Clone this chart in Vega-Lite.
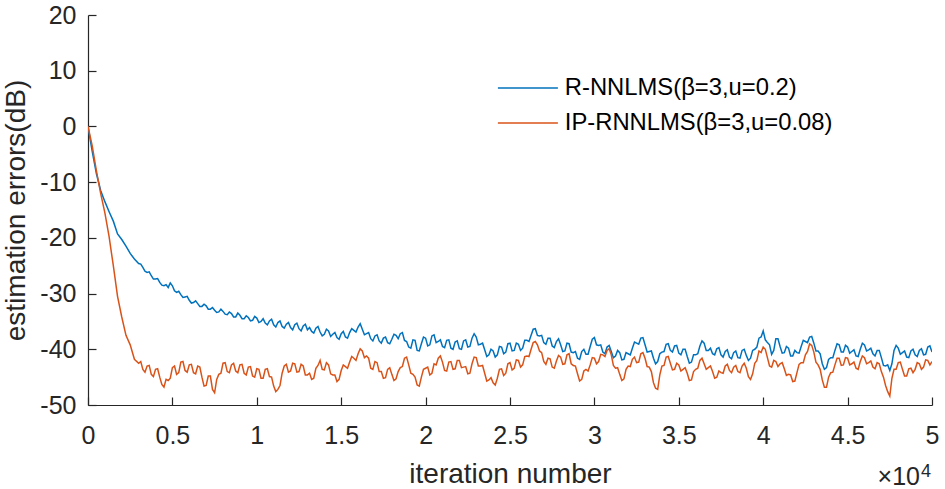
{
  "$schema": "https://vega.github.io/schema/vega-lite/v6.json",
  "autosize": {"type": "none"},
  "width": 844,
  "height": 390,
  "padding": {"left": 88, "top": 15, "right": 13, "bottom": 84},
  "background": "white",
  "config": {
    "font": "Liberation Sans",
    "view": {"stroke": null},
    "axis": {
      "domainColor": "#262626",
      "tickColor": "#262626",
      "labelColor": "#262626",
      "titleColor": "#262626",
      "grid": false,
      "labelFontSize": 25,
      "titleFontSize": 28,
      "titleFontWeight": "normal",
      "labelFlush": false,
      "domainWidth": 1.2,
      "tickWidth": 1.2,
      "tickSize": -8
    }
  },
  "datasets": {
    "curves": [
      {"x":0,"R":0,"IP":0},
      {"x":0.025,"R":-4.5,"IP":-3.5},
      {"x":0.05,"R":-8.5,"IP":-8},
      {"x":0.075,"R":-11.5,"IP":-12},
      {"x":0.1,"R":-13.5,"IP":-15.5},
      {"x":0.125,"R":-15.3,"IP":-19.8},
      {"x":0.15,"R":-17,"IP":-25},
      {"x":0.175,"R":-19.3,"IP":-30.5},
      {"x":0.2,"R":-20.3,"IP":-34.2},
      {"x":0.225,"R":-21.5,"IP":-37.5},
      {"x":0.25,"R":-22.8,"IP":-39.2},
      {"x":0.275,"R":-23.8,"IP":-41.8},
      {"x":0.3,"R":-24.6,"IP":-42.5},
      {"x":0.3125,"R":-24.7,"IP":-42.2},
      {"x":0.325,"R":-25.3,"IP":-43.6},
      {"x":0.3375,"R":-26.0,"IP":-44.1},
      {"x":0.35,"R":-26.2,"IP":-43.0},
      {"x":0.3625,"R":-26.1,"IP":-42.9},
      {"x":0.375,"R":-26.8,"IP":-44.5},
      {"x":0.3875,"R":-27.4,"IP":-44.9},
      {"x":0.4,"R":-27.4,"IP":-43.6},
      {"x":0.4125,"R":-27.3,"IP":-43.5},
      {"x":0.425,"R":-28,"IP":-45.0},
      {"x":0.4375,"R":-28.5,"IP":-46.3},
      {"x":0.45,"R":-28.6,"IP":-46.8},
      {"x":0.4625,"R":-28.4,"IP":-45.4},
      {"x":0.475,"R":-28.9,"IP":-45.6},
      {"x":0.4875,"R":-28.1,"IP":-45.2},
      {"x":0.5,"R":-28.6,"IP":-43.3},
      {"x":0.5125,"R":-29.5,"IP":-43.0},
      {"x":0.525,"R":-29.8,"IP":-44.5},
      {"x":0.5375,"R":-29.6,"IP":-44.2},
      {"x":0.55,"R":-30.2,"IP":-42.3},
      {"x":0.5625,"R":-30.7,"IP":-42.2},
      {"x":0.575,"R":-30.6,"IP":-43.8},
      {"x":0.5875,"R":-30.5,"IP":-44.1},
      {"x":0.6,"R":-31.2,"IP":-42.8},
      {"x":0.6125,"R":-31.7,"IP":-42.7},
      {"x":0.625,"R":-31.6,"IP":-44.2},
      {"x":0.6375,"R":-31.3,"IP":-44.4},
      {"x":0.65,"R":-31.8,"IP":-43.0},
      {"x":0.6625,"R":-32.3,"IP":-43.2},
      {"x":0.675,"R":-32.3,"IP":-45.0},
      {"x":0.6875,"R":-31.9,"IP":-46.6},
      {"x":0.7,"R":-32.2,"IP":-46.5},
      {"x":0.7125,"R":-32.8,"IP":-44.8},
      {"x":0.725,"R":-32.8,"IP":-44.8},
      {"x":0.7375,"R":-32.5,"IP":-47.2},
      {"x":0.75,"R":-33,"IP":-47.8},
      {"x":0.7625,"R":-33.4,"IP":-45.4},
      {"x":0.775,"R":-33.3,"IP":-44.5},
      {"x":0.7875,"R":-32.8,"IP":-44.3},
      {"x":0.8,"R":-33.2,"IP":-42.5},
      {"x":0.8125,"R":-33.7,"IP":-42.4},
      {"x":0.825,"R":-33.8,"IP":-44.0},
      {"x":0.8375,"R":-33.3,"IP":-44.2},
      {"x":0.85,"R":-33.6,"IP":-42.8},
      {"x":0.8625,"R":-34.2,"IP":-42.5},
      {"x":0.875,"R":-34.2,"IP":-43.9},
      {"x":0.8875,"R":-33.5,"IP":-44.2},
      {"x":0.9,"R":-33.9,"IP":-42.8},
      {"x":0.9125,"R":-34.5,"IP":-42.7},
      {"x":0.925,"R":-34.5,"IP":-44.3},
      {"x":0.9375,"R":-34.0,"IP":-44.6},
      {"x":0.95,"R":-34.3,"IP":-43.2},
      {"x":0.9625,"R":-34.9,"IP":-43.1},
      {"x":0.975,"R":-34.8,"IP":-44.8},
      {"x":0.9875,"R":-34.1,"IP":-45.0},
      {"x":1.0,"R":-34.4,"IP":-43.5},
      {"x":1.0125,"R":-35.2,"IP":-43.6},
      {"x":1.025,"R":-35.0,"IP":-45.2},
      {"x":1.0375,"R":-34.5,"IP":-45.2},
      {"x":1.05,"R":-35.3,"IP":-43.6},
      {"x":1.0625,"R":-35.6,"IP":-43.5},
      {"x":1.075,"R":-34.9,"IP":-44.9},
      {"x":1.0875,"R":-34.6,"IP":-45.0},
      {"x":1.1,"R":-35.6,"IP":-46.6},
      {"x":1.1125,"R":-36.0,"IP":-47.6},
      {"x":1.125,"R":-35.2,"IP":-47.2},
      {"x":1.1375,"R":-34.9,"IP":-46.5},
      {"x":1.15,"R":-35.9,"IP":-44.3},
      {"x":1.1625,"R":-36.2,"IP":-43.0},
      {"x":1.175,"R":-35.5,"IP":-42.7},
      {"x":1.1875,"R":-35.2,"IP":-44.1},
      {"x":1.2,"R":-36.1,"IP":-43.9},
      {"x":1.2125,"R":-36.5,"IP":-42.5},
      {"x":1.225,"R":-35.6,"IP":-42.6},
      {"x":1.2375,"R":-35.3,"IP":-44.1},
      {"x":1.25,"R":-36.3,"IP":-44.0},
      {"x":1.2625,"R":-36.7,"IP":-42.7},
      {"x":1.275,"R":-35.8,"IP":-43.0},
      {"x":1.2875,"R":-35.5,"IP":-44.6},
      {"x":1.3,"R":-36.5,"IP":-44.6},
      {"x":1.3125,"R":-36.1,"IP":-44.3},
      {"x":1.325,"R":-36.8,"IP":-45.4},
      {"x":1.3375,"R":-37.1,"IP":-45.2},
      {"x":1.35,"R":-36.2,"IP":-43.4},
      {"x":1.3625,"R":-35.9,"IP":-42.9},
      {"x":1.375,"R":-36.9,"IP":-42.0},
      {"x":1.3875,"R":-37.6,"IP":-43.6},
      {"x":1.4,"R":-37.3,"IP":-43.7},
      {"x":1.4125,"R":-36.4,"IP":-42.4},
      {"x":1.425,"R":-36.7,"IP":-42.8},
      {"x":1.4375,"R":-37.7,"IP":-44.4},
      {"x":1.45,"R":-37.3,"IP":-44.6},
      {"x":1.4625,"R":-37.0,"IP":-44.6},
      {"x":1.475,"R":-37.9,"IP":-45.8},
      {"x":1.4875,"R":-38.2,"IP":-45.4},
      {"x":1.5,"R":-37.2,"IP":-43.8},
      {"x":1.5125,"R":-36.8,"IP":-42.8},
      {"x":1.525,"R":-37.8,"IP":-43.1},
      {"x":1.5375,"R":-38.0,"IP":-43.4},
      {"x":1.55,"R":-37.0,"IP":-42.3},
      {"x":1.5625,"R":-36.3,"IP":-41.3},
      {"x":1.575,"R":-36.6,"IP":-41.6},
      {"x":1.5875,"R":-36.9,"IP":-42.0},
      {"x":1.6,"R":-36.0,"IP":-40.8},
      {"x":1.6125,"R":-35.4,"IP":-39.9},
      {"x":1.625,"R":-36.4,"IP":-40.3},
      {"x":1.6375,"R":-37.4,"IP":-41.5},
      {"x":1.65,"R":-37.2,"IP":-41.2},
      {"x":1.6625,"R":-37.0,"IP":-41.6},
      {"x":1.675,"R":-38.1,"IP":-43.4},
      {"x":1.6875,"R":-38.5,"IP":-43.6},
      {"x":1.7,"R":-37.6,"IP":-42.2},
      {"x":1.7125,"R":-37.4,"IP":-42.4},
      {"x":1.725,"R":-38.5,"IP":-44.0},
      {"x":1.7375,"R":-38.9,"IP":-44.0},
      {"x":1.75,"R":-38.0,"IP":-45.2},
      {"x":1.7625,"R":-37.8,"IP":-45.1},
      {"x":1.775,"R":-38.8,"IP":-43.6},
      {"x":1.7875,"R":-39.0,"IP":-43.3},
      {"x":1.8,"R":-38.2,"IP":-44.5},
      {"x":1.8125,"R":-37.3,"IP":-45.6},
      {"x":1.825,"R":-37.5,"IP":-45.3},
      {"x":1.8375,"R":-38.1,"IP":-44.0},
      {"x":1.85,"R":-37.2,"IP":-43.3},
      {"x":1.8625,"R":-37.0,"IP":-43.1},
      {"x":1.875,"R":-38.4,"IP":-41.6},
      {"x":1.8875,"R":-38.6,"IP":-41.4},
      {"x":1.9,"R":-39.6,"IP":-42.8},
      {"x":1.9125,"R":-39.8,"IP":-44.3},
      {"x":1.925,"R":-38.3,"IP":-44.5},
      {"x":1.9375,"R":-38.4,"IP":-45.0},
      {"x":1.95,"R":-40.2,"IP":-46.4},
      {"x":1.9625,"R":-40.3,"IP":-46.6},
      {"x":1.975,"R":-39.0,"IP":-45.0},
      {"x":1.9875,"R":-37.8,"IP":-43.6},
      {"x":2.0,"R":-38.0,"IP":-43.4},
      {"x":2.0125,"R":-39.4,"IP":-43.2},
      {"x":2.025,"R":-39.2,"IP":-44.6},
      {"x":2.0375,"R":-37.6,"IP":-44.3},
      {"x":2.05,"R":-37.4,"IP":-42.6},
      {"x":2.0625,"R":-38.8,"IP":-42.8},
      {"x":2.075,"R":-38.6,"IP":-41.6},
      {"x":2.0875,"R":-38.3,"IP":-41.2},
      {"x":2.1,"R":-39.5,"IP":-42.3},
      {"x":2.1125,"R":-39.7,"IP":-43.8},
      {"x":2.125,"R":-38.4,"IP":-43.9},
      {"x":2.1375,"R":-38.3,"IP":-42.3},
      {"x":2.15,"R":-39.8,"IP":-42.2},
      {"x":2.1625,"R":-40.0,"IP":-43.6},
      {"x":2.175,"R":-38.7,"IP":-43.5},
      {"x":2.1875,"R":-38.5,"IP":-42.0},
      {"x":2.2,"R":-39.9,"IP":-42.0},
      {"x":2.2125,"R":-40.0,"IP":-43.3},
      {"x":2.225,"R":-38.5,"IP":-43.2},
      {"x":2.2375,"R":-38.3,"IP":-43.1},
      {"x":2.25,"R":-39.6,"IP":-44.4},
      {"x":2.2625,"R":-39.5,"IP":-44.3},
      {"x":2.275,"R":-38.0,"IP":-42.6},
      {"x":2.2875,"R":-37.2,"IP":-41.4},
      {"x":2.3,"R":-37.8,"IP":-41.5},
      {"x":2.3125,"R":-39.2,"IP":-43.0},
      {"x":2.325,"R":-39.1,"IP":-43.0},
      {"x":2.3375,"R":-38.9,"IP":-42.9},
      {"x":2.35,"R":-40.1,"IP":-44.3},
      {"x":2.3625,"R":-41.3,"IP":-45.7},
      {"x":2.375,"R":-41.0,"IP":-45.5},
      {"x":2.3875,"R":-40.0,"IP":-45.1},
      {"x":2.4,"R":-40.3,"IP":-46.0},
      {"x":2.4125,"R":-41.4,"IP":-46.4},
      {"x":2.425,"R":-41.0,"IP":-45.2},
      {"x":2.4375,"R":-39.5,"IP":-43.6},
      {"x":2.45,"R":-39.6,"IP":-43.5},
      {"x":2.4625,"R":-40.8,"IP":-44.7},
      {"x":2.475,"R":-40.5,"IP":-44.3},
      {"x":2.4875,"R":-39.0,"IP":-42.6},
      {"x":2.5,"R":-38.9,"IP":-42.4},
      {"x":2.5125,"R":-40.3,"IP":-43.7},
      {"x":2.525,"R":-40.2,"IP":-43.4},
      {"x":2.5375,"R":-38.9,"IP":-41.9},
      {"x":2.55,"R":-39.1,"IP":-42.0},
      {"x":2.5625,"R":-40.2,"IP":-43.2},
      {"x":2.575,"R":-39.8,"IP":-42.8},
      {"x":2.5875,"R":-38.4,"IP":-41.3},
      {"x":2.6,"R":-38.4,"IP":-41.2},
      {"x":2.6125,"R":-38.6,"IP":-41.3},
      {"x":2.625,"R":-37.5,"IP":-40.0},
      {"x":2.6375,"R":-36.4,"IP":-38.8},
      {"x":2.65,"R":-36.3,"IP":-38.6},
      {"x":2.6625,"R":-37.5,"IP":-39.2},
      {"x":2.675,"R":-37.6,"IP":-40.3},
      {"x":2.6875,"R":-37.5,"IP":-40.6},
      {"x":2.7,"R":-38.8,"IP":-42.2},
      {"x":2.7125,"R":-39.1,"IP":-42.7},
      {"x":2.725,"R":-38.0,"IP":-41.6},
      {"x":2.7375,"R":-38.0,"IP":-41.7},
      {"x":2.75,"R":-39.4,"IP":-43.2},
      {"x":2.7625,"R":-39.7,"IP":-43.4},
      {"x":2.775,"R":-38.6,"IP":-42.1},
      {"x":2.7875,"R":-38.1,"IP":-41.1},
      {"x":2.8,"R":-39.2,"IP":-41.4},
      {"x":2.8125,"R":-40.4,"IP":-42.7},
      {"x":2.825,"R":-40.3,"IP":-42.6},
      {"x":2.8375,"R":-38.9,"IP":-41.0},
      {"x":2.85,"R":-39.0,"IP":-40.8},
      {"x":2.8625,"R":-40.5,"IP":-42.6},
      {"x":2.875,"R":-40.6,"IP":-42.9},
      {"x":2.8875,"R":-40.4,"IP":-43.0},
      {"x":2.9,"R":-41.6,"IP":-44.4},
      {"x":2.9125,"R":-41.8,"IP":-45.7},
      {"x":2.925,"R":-40.4,"IP":-45.4},
      {"x":2.9375,"R":-40.0,"IP":-43.9},
      {"x":2.95,"R":-40.9,"IP":-43.6},
      {"x":2.9625,"R":-40.9,"IP":-43.9},
      {"x":2.975,"R":-39.5,"IP":-42.8},
      {"x":2.9875,"R":-38.2,"IP":-41.5},
      {"x":3.0,"R":-37.9,"IP":-41.6},
      {"x":3.0125,"R":-39.2,"IP":-42.6},
      {"x":3.025,"R":-39.3,"IP":-42.2},
      {"x":3.0375,"R":-39.2,"IP":-40.9},
      {"x":3.05,"R":-40.5,"IP":-41.0},
      {"x":3.0625,"R":-40.8,"IP":-41.3},
      {"x":3.075,"R":-39.6,"IP":-40.2},
      {"x":3.0875,"R":-39.3,"IP":-39.9},
      {"x":3.1,"R":-40.4,"IP":-41.0},
      {"x":3.1125,"R":-41.5,"IP":-42.9},
      {"x":3.125,"R":-41.2,"IP":-43.4},
      {"x":3.1375,"R":-40.2,"IP":-43.3},
      {"x":3.15,"R":-40.6,"IP":-44.5},
      {"x":3.1625,"R":-41.9,"IP":-45.6},
      {"x":3.175,"R":-41.8,"IP":-45.3},
      {"x":3.1875,"R":-40.6,"IP":-43.6},
      {"x":3.2,"R":-40.8,"IP":-43.0},
      {"x":3.2125,"R":-41.0,"IP":-43.1},
      {"x":3.225,"R":-39.8,"IP":-41.8},
      {"x":3.2375,"R":-38.7,"IP":-41.4},
      {"x":3.25,"R":-38.9,"IP":-42.4},
      {"x":3.2625,"R":-39.1,"IP":-42.3},
      {"x":3.275,"R":-38.0,"IP":-40.8},
      {"x":3.2875,"R":-37.9,"IP":-40.6},
      {"x":3.3,"R":-39.2,"IP":-41.6},
      {"x":3.3125,"R":-40.5,"IP":-43.1},
      {"x":3.325,"R":-40.4,"IP":-43.2},
      {"x":3.3375,"R":-40.3,"IP":-44.0},
      {"x":3.35,"R":-41.6,"IP":-46.0},
      {"x":3.3625,"R":-42.6,"IP":-47.0},
      {"x":3.375,"R":-42.2,"IP":-47.2},
      {"x":3.3875,"R":-40.8,"IP":-44.6},
      {"x":3.4,"R":-40.5,"IP":-43.0},
      {"x":3.4125,"R":-40.4,"IP":-42.9},
      {"x":3.425,"R":-39.1,"IP":-41.4},
      {"x":3.4375,"R":-39.0,"IP":-41.3},
      {"x":3.45,"R":-40.2,"IP":-42.5},
      {"x":3.4625,"R":-40.5,"IP":-43.7},
      {"x":3.475,"R":-39.4,"IP":-43.6},
      {"x":3.4875,"R":-39.3,"IP":-42.5},
      {"x":3.5,"R":-40.7,"IP":-42.8},
      {"x":3.5125,"R":-41.0,"IP":-43.9},
      {"x":3.525,"R":-40.0,"IP":-43.6},
      {"x":3.5375,"R":-40.0,"IP":-43.3},
      {"x":3.55,"R":-41.3,"IP":-44.3},
      {"x":3.5625,"R":-42.5,"IP":-45.6},
      {"x":3.575,"R":-42.3,"IP":-45.5},
      {"x":3.5875,"R":-41.0,"IP":-44.0},
      {"x":3.6,"R":-41.0,"IP":-43.6},
      {"x":3.6125,"R":-40.8,"IP":-43.4},
      {"x":3.625,"R":-39.4,"IP":-42.0},
      {"x":3.6375,"R":-38.5,"IP":-41.6},
      {"x":3.65,"R":-38.9,"IP":-42.6},
      {"x":3.6625,"R":-40.2,"IP":-43.6},
      {"x":3.675,"R":-40.2,"IP":-43.3},
      {"x":3.6875,"R":-39.8,"IP":-43.0},
      {"x":3.7,"R":-40.8,"IP":-44.0},
      {"x":3.7125,"R":-41.0,"IP":-45.2},
      {"x":3.725,"R":-39.9,"IP":-45.0},
      {"x":3.7375,"R":-39.7,"IP":-43.9},
      {"x":3.75,"R":-41.0,"IP":-44.2},
      {"x":3.7625,"R":-41.4,"IP":-44.3},
      {"x":3.775,"R":-40.4,"IP":-43.0},
      {"x":3.7875,"R":-40.1,"IP":-42.7},
      {"x":3.8,"R":-41.4,"IP":-43.8},
      {"x":3.8125,"R":-41.7,"IP":-44.2},
      {"x":3.825,"R":-40.6,"IP":-43.2},
      {"x":3.8375,"R":-40.3,"IP":-42.9},
      {"x":3.85,"R":-41.5,"IP":-44.0},
      {"x":3.8625,"R":-41.6,"IP":-44.2},
      {"x":3.875,"R":-40.2,"IP":-43.0},
      {"x":3.8875,"R":-40.0,"IP":-42.5},
      {"x":3.9,"R":-41.1,"IP":-43.4},
      {"x":3.9125,"R":-42.0,"IP":-44.9},
      {"x":3.925,"R":-41.6,"IP":-45.4},
      {"x":3.9375,"R":-40.2,"IP":-44.4},
      {"x":3.95,"R":-40.0,"IP":-42.5},
      {"x":3.9625,"R":-39.6,"IP":-42.0},
      {"x":3.975,"R":-38.0,"IP":-40.3},
      {"x":3.9875,"R":-37.8,"IP":-40.6},
      {"x":4.0,"R":-36.7,"IP":-39.6},
      {"x":4.0125,"R":-38.3,"IP":-40.0},
      {"x":4.025,"R":-38.8,"IP":-41.5},
      {"x":4.0375,"R":-39.2,"IP":-43.0},
      {"x":4.05,"R":-40.9,"IP":-43.2},
      {"x":4.0625,"R":-40.2,"IP":-42.0},
      {"x":4.075,"R":-38.1,"IP":-42.2},
      {"x":4.0875,"R":-38.1,"IP":-43.1},
      {"x":4.1,"R":-39.5,"IP":-42.6},
      {"x":4.1125,"R":-40.7,"IP":-42.4},
      {"x":4.125,"R":-40.6,"IP":-43.5},
      {"x":4.1375,"R":-39.5,"IP":-44.7},
      {"x":4.15,"R":-39.8,"IP":-44.5},
      {"x":4.1625,"R":-41.2,"IP":-44.6},
      {"x":4.175,"R":-41.2,"IP":-45.8},
      {"x":4.1875,"R":-40.2,"IP":-45.7},
      {"x":4.2,"R":-40.6,"IP":-44.2},
      {"x":4.2125,"R":-40.7,"IP":-42.7},
      {"x":4.225,"R":-39.5,"IP":-42.4},
      {"x":4.2375,"R":-38.4,"IP":-42.4},
      {"x":4.25,"R":-38.6,"IP":-41.0},
      {"x":4.2625,"R":-38.8,"IP":-40.4},
      {"x":4.275,"R":-37.8,"IP":-39.0},
      {"x":4.2875,"R":-37.7,"IP":-39.3},
      {"x":4.3,"R":-38.9,"IP":-40.5},
      {"x":4.3125,"R":-40.3,"IP":-42.3},
      {"x":4.325,"R":-40.3,"IP":-42.8},
      {"x":4.3375,"R":-40.8,"IP":-43.6},
      {"x":4.35,"R":-42.6,"IP":-45.5},
      {"x":4.3625,"R":-43.6,"IP":-46.8},
      {"x":4.375,"R":-43.3,"IP":-46.8},
      {"x":4.3875,"R":-41.8,"IP":-45.0},
      {"x":4.4,"R":-41.5,"IP":-44.2},
      {"x":4.4125,"R":-41.5,"IP":-44.1},
      {"x":4.425,"R":-40.2,"IP":-42.8},
      {"x":4.4375,"R":-39.0,"IP":-41.6},
      {"x":4.45,"R":-39.2,"IP":-41.6},
      {"x":4.4625,"R":-40.5,"IP":-42.9},
      {"x":4.475,"R":-40.5,"IP":-42.8},
      {"x":4.4875,"R":-39.3,"IP":-41.5},
      {"x":4.5,"R":-39.6,"IP":-41.6},
      {"x":4.5125,"R":-40.7,"IP":-42.8},
      {"x":4.525,"R":-40.4,"IP":-42.6},
      {"x":4.5375,"R":-40.1,"IP":-42.3},
      {"x":4.55,"R":-41.2,"IP":-43.4},
      {"x":4.5625,"R":-41.3,"IP":-43.6},
      {"x":4.575,"R":-40.0,"IP":-42.2},
      {"x":4.5875,"R":-38.9,"IP":-41.2},
      {"x":4.6,"R":-39.2,"IP":-41.5},
      {"x":4.6125,"R":-40.3,"IP":-42.6},
      {"x":4.625,"R":-40.1,"IP":-42.4},
      {"x":4.6375,"R":-39.8,"IP":-42.1},
      {"x":4.65,"R":-40.8,"IP":-43.2},
      {"x":4.6625,"R":-41.2,"IP":-43.5},
      {"x":4.675,"R":-40.2,"IP":-42.4},
      {"x":4.6875,"R":-40.2,"IP":-42.6},
      {"x":4.7,"R":-41.5,"IP":-44.0},
      {"x":4.7125,"R":-42.9,"IP":-45.0},
      {"x":4.725,"R":-43.0,"IP":-46.5},
      {"x":4.7375,"R":-42.8,"IP":-47.6},
      {"x":4.75,"R":-43.8,"IP":-48.4},
      {"x":4.7625,"R":-42.6,"IP":-45.2},
      {"x":4.775,"R":-40.2,"IP":-43.6},
      {"x":4.7875,"R":-39.3,"IP":-43.6},
      {"x":4.8,"R":-39.8,"IP":-42.4},
      {"x":4.8125,"R":-40.9,"IP":-42.3},
      {"x":4.825,"R":-40.6,"IP":-43.6},
      {"x":4.8375,"R":-40.3,"IP":-44.8},
      {"x":4.85,"R":-41.4,"IP":-44.8},
      {"x":4.8625,"R":-41.5,"IP":-43.5},
      {"x":4.875,"R":-40.3,"IP":-43.4},
      {"x":4.8875,"R":-40.0,"IP":-44.2},
      {"x":4.9,"R":-41.0,"IP":-43.6},
      {"x":4.9125,"R":-41.3,"IP":-42.4},
      {"x":4.925,"R":-40.2,"IP":-42.6},
      {"x":4.9375,"R":-39.9,"IP":-43.6},
      {"x":4.95,"R":-41.0,"IP":-43.2},
      {"x":4.9625,"R":-40.9,"IP":-41.9},
      {"x":4.975,"R":-39.6,"IP":-42.0},
      {"x":4.9875,"R":-39.4,"IP":-42.8},
      {"x":5.0,"R":-40.5,"IP":-42.2}
    ],
    "scaleNote": [
      {"x": 5, "y": -50, "main": "×10", "exp": "4"}
    ]
  },
  "layer": [
    {
      "data": {"name": "curves"},
      "transform": [{"fold": ["R", "IP"], "as": ["series", "value"]}],
      "mark": {"type": "line", "strokeWidth": 1.5, "clip": true},
      "encoding": {
        "x": {
          "field": "x", "type": "quantitative",
          "scale": {"domain": [0, 5], "nice": false, "zero": false},
          "axis": {
            "title": "iteration number",
            "values": [0, 0.5, 1, 1.5, 2, 2.5, 3, 3.5, 4, 4.5, 5],
            "format": "~g",
            "labelPadding": 26,
            "titlePadding": 12
          }
        },
        "y": {
          "field": "value", "type": "quantitative",
          "scale": {"domain": [-50, 20], "nice": false, "zero": false},
          "axis": {
            "title": "estimation errors(dB)",
            "values": [-50, -40, -30, -20, -10, 0, 10, 20],
            "labelExpr": "'' + datum.value",
            "labelPadding": 20,
            "titlePadding": 9
          }
        },
        "color": {
          "field": "series", "type": "nominal",
          "scale": {"domain": ["R", "IP"], "range": ["#0072BD", "#D95319"]},
          "legend": {
            "title": null,
            "orient": "none",
            "legendX": 428,
            "legendY": 61,
            "symbolType": "M-3,0H3",
            "symbolSize": 400,
            "symbolStrokeWidth": 1.5,
            "labelFontSize": 23.8,
            "labelColor": "#000000",
            "labelOffset": 25,
            "rowPadding": 10,
            "padding": 0,
            "labelLimit": 400,
            "labelExpr": "datum.label == 'R' ? 'R-NNLMS(β=3,u=0.2)' : 'IP-RNNLMS(β=3,u=0.08)'"
          }
        }
      }
    },
    {
      "data": {"name": "scaleNote"},
      "mark": {"type": "text", "align": "right", "baseline": "alphabetic", "dx": -12, "dy": 80, "fontSize": 25, "color": "#262626"},
      "encoding": {
        "x": {"field": "x", "type": "quantitative"},
        "y": {"field": "y", "type": "quantitative"},
        "text": {"field": "main"}
      }
    },
    {
      "data": {"name": "scaleNote"},
      "mark": {"type": "text", "align": "left", "baseline": "alphabetic", "dx": -11, "dy": 72, "fontSize": 18, "color": "#262626"},
      "encoding": {
        "x": {"field": "x", "type": "quantitative"},
        "y": {"field": "y", "type": "quantitative"},
        "text": {"field": "exp"}
      }
    }
  ]
}
